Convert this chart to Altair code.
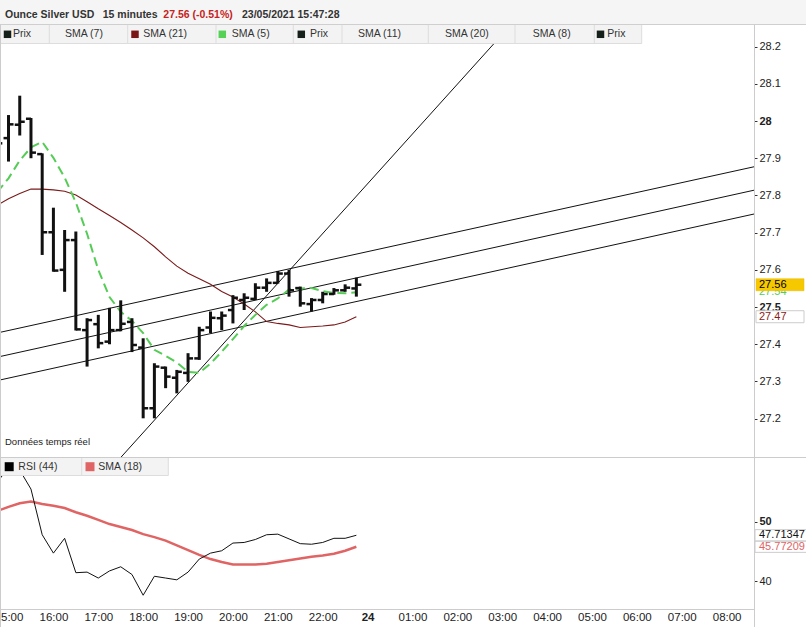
import altair as alt
import pandas as pd

# ---------------- data ----------------
bar_times = ["14:45", "15:00", "15:15", "15:30", "15:45", "16:00", "16:15", "16:30", "16:45",
             "17:00", "17:15", "17:30", "17:45", "18:00", "18:15", "18:30", "18:45",
             "19:00", "19:15", "19:30", "19:45", "20:00", "20:15", "20:30", "20:45",
             "21:00", "21:15", "21:30", "21:45", "22:00", "22:15", "22:30", "22:45"]
opens = [27.930, 27.954, 27.990, 28.006, 27.911, 27.701, 27.600, 27.680, 27.438, 27.454, 27.407,
         27.438, 27.460, 27.391, 27.228, 27.337, 27.310, 27.323, 27.362, 27.445, 27.470, 27.492,
         27.519, 27.522, 27.552, 27.565, 27.590, 27.551, 27.508, 27.519, 27.535, 27.545, 27.550]
highs = [27.980, 28.016, 28.068, 28.008, 27.913, 27.767, 27.707, 27.703, 27.470, 27.479, 27.498,
         27.518, 27.470, 27.416, 27.349, 27.340, 27.331, 27.376, 27.447, 27.488, 27.488, 27.532,
         27.537, 27.564, 27.577, 27.597, 27.600, 27.555, 27.524, 27.541, 27.551, 27.561, 27.579]
lows = [27.920, 27.891, 27.961, 27.900, 27.640, 27.595, 27.541, 27.437, 27.340, 27.389, 27.400,
        27.435, 27.379, 27.201, 27.201, 27.282, 27.268, 27.299, 27.358, 27.430, 27.438, 27.456,
        27.492, 27.519, 27.541, 27.563, 27.528, 27.501, 27.488, 27.510, 27.533, 27.541, 27.528]
closes = [27.940, 27.991, 27.998, 27.915, 27.701, 27.598, 27.680, 27.440, 27.465, 27.403, 27.438,
          27.455, 27.398, 27.228, 27.340, 27.313, 27.326, 27.362, 27.438, 27.471, 27.477, 27.525,
          27.525, 27.552, 27.565, 27.590, 27.545, 27.510, 27.519, 27.535, 27.545, 27.552, 27.560]
sma5 = [27.809, 27.846, 27.894, 27.929, 27.944, 27.901, 27.848, 27.781, 27.697, 27.600, 27.527,
        27.487, 27.463, 27.430, 27.385, 27.369, 27.351, 27.326, 27.323, 27.348, 27.380, 27.414,
        27.449, 27.479, 27.506, 27.523, 27.547, 27.550, 27.551, 27.543, 27.538, 27.537, 27.540]
sma21 = [27.774, 27.791, 27.805, 27.817, 27.817, 27.815, 27.811, 27.801, 27.783, 27.764, 27.746,
         27.727, 27.707, 27.686, 27.662, 27.635, 27.610, 27.591, 27.576, 27.561, 27.542, 27.527,
         27.508, 27.487, 27.461, 27.456, 27.452, 27.445, 27.447, 27.449, 27.452, 27.460, 27.474]
rsi44 = [56.7, 59.1, 58.7, 55.5, 47.8, 44.7, 47.2, 41.4, 41.5, 40.5, 41.7, 42.4, 41.1, 37.6, 40.8,
         40.5, 40.2, 41.5, 43.7, 44.7, 45.1, 46.4, 46.5, 47.0, 47.8, 47.9, 47.1, 46.3, 46.2, 46.5,
         47.2, 47.2, 47.71]
rsi_sma18 = [51.8, 52.5, 53.1, 53.4, 53.0, 52.7, 52.3, 51.6, 51.0, 50.3, 49.6, 49.1, 48.6, 47.9,
             47.4, 46.8, 46.0, 45.2, 44.4, 43.7, 43.2, 42.8, 42.8, 42.8, 42.9, 43.2, 43.5, 43.8,
             44.1, 44.3, 44.6, 45.1, 45.77]

# trend lines: (axis position, price) anchor points
channel_pos = [-0.19, 16.61]
channel_upper = [27.432, 27.877]
channel_middle = [27.367, 27.814]
channel_lower = [27.304, 27.750]
steep_pos = [2.51, 11.19]
steep_price = [27.097, 28.258]

axis_labels = ["15:00", "16:00", "17:00", "18:00", "19:00", "20:00", "21:00", "22:00", "24",
               "01:00", "02:00", "03:00", "04:00", "05:00", "06:00", "07:00", "08:00"]
price_ticks = [27.2, 27.3, 27.4, 27.5, 27.6, 27.7, 27.8, 27.9, 28.0, 28.1, 28.2]
rsi_ticks = [40, 50]

title_parts = ["Ounce Silver USD", "15 minutes", "27.56 (-0.51%)", "23/05/2021 15:47:28"]
last_price, last_sma5, last_sma21 = 27.56, 27.54, 27.474
last_rsi, last_rsi_sma = 47.71347, 45.77209

legend_top = ["Prix", "SMA (7)", "SMA (21)", "SMA (5)", "Prix", "SMA (11)", "SMA (20)", "SMA (8)", "Prix"]
legend_top_colors = ["#16201a", None, "#7a1616", "#55d155", "#16201a", None, None, None, "#16201a"]
legend_rsi = ["RSI (44)", "SMA (18)"]
legend_rsi_colors = ["#000000", "#e06464"]
footnote = "Données temps réel"

# ---------------- layout constants ----------------
W, H = 806, 627
FONT = "Liberation Sans"
XDOM, XR = [-0.19, 16.61], [0, 754]
PDOM, PR = [27.097, 28.258], [457, 25]
RDOM, RR = [35.28, 60.74], [609, 458]


def to_pos(t):
    h, m = t.split(":")
    return (int(h) - 15) + int(m) / 60.0


bars = pd.DataFrame({"i": [to_pos(t) for t in bar_times], "open": opens, "high": highs,
                     "low": lows, "close": closes, "sma5": sma5, "sma21": sma21,
                     "rsi": rsi44, "rsisma": rsi_sma18})


def XS(field="i", axis=None):
    return alt.X(f"{field}:Q", scale=alt.Scale(domain=XDOM, range=XR, nice=False, zero=False), axis=axis)


def YP(field, axis=None):
    return alt.Y(f"{field}:Q", scale=alt.Scale(domain=PDOM, range=PR, nice=False, zero=False), axis=axis)


def YR(field, axis=None):
    return alt.Y(f"{field}:Q", scale=alt.Scale(domain=RDOM, range=RR, nice=False, zero=False), axis=axis)


def PX(f):
    return alt.X(f"{f}:Q", scale=None, axis=None)


def PY(f):
    return alt.Y(f"{f}:Q", scale=None, axis=None)


label_expr = "[" + ",".join(f"'{s}'" for s in axis_labels) + "][datum.value]"
x_axis = alt.Axis(orient="bottom", offset=-17.5, values=list(range(len(axis_labels))),
                  labelExpr=label_expr, ticks=False, domain=False, grid=False, labelPadding=2,
                  labelFont=FONT, labelFontSize=11.5, labelColor="#222222", labelFlush=False,
                  labelOverlap=False, labelBound=False, title=None,
                  labelFontWeight={"condition": {"test": "datum.value == 8", "value": "bold"}, "value": "normal"})
p_axis = alt.Axis(orient="right", offset=-52, values=price_ticks, format="~g", domain=False, grid=False,
                  tickSize=3, tickColor="#333333", labelFont=FONT, labelFontSize=11, labelColor="#222222",
                  labelPadding=2, labelFlush=False, labelOverlap=False, labelBound=False, title=None,
                  labelFontWeight={"condition": {"test": "datum.value == 28 || datum.value == 27.5",
                                                 "value": "bold"}, "value": "normal"})
r_axis = alt.Axis(orient="right", offset=-52, values=rsi_ticks, format="d", domain=False, grid=False,
                  tickSize=3, tickColor="#333333", labelFont=FONT, labelFontSize=11, labelColor="#222222",
                  labelPadding=2, labelFlush=False, labelOverlap=False, labelBound=False, title=None,
                  labelFontWeight={"condition": {"test": "datum.value == 50", "value": "bold"}, "value": "normal"})

layers = []

# header background
bgs = pd.DataFrame([
    dict(x=0, x2=W, y=0, y2=24, c="#f5f5f5"),
])
layers.append(alt.Chart(bgs).mark_rect().encode(x=PX("x"), x2="x2:Q", y=PY("y"), y2="y2:Q",
                                               color=alt.Color("c:N", scale=None)))

# trend lines
tl = pd.DataFrame({
    "i": channel_pos * 3 + steep_pos,
    "p": channel_upper + channel_middle + channel_lower + steep_price,
    "g": ["u", "u", "m", "m", "l", "l", "s", "s"],
})
layers.append(alt.Chart(tl).mark_line(color="#111111", strokeWidth=1).encode(
    x=XS("i", axis=x_axis), y=YP("p", axis=p_axis), detail="g:N"))

# moving averages
layers.append(alt.Chart(bars).mark_line(color="#7a1a1a", strokeWidth=1.1).encode(x=XS(), y=YP("sma21")))
layers.append(alt.Chart(bars).mark_line(color="#55cc55", strokeWidth=2, strokeDash=[9, 5]).encode(
    x=XS(), y=YP("sma5")))

# OHLC bars
layers.append(alt.Chart(bars).mark_rule(color="#111111", strokeWidth=3).encode(
    x=XS(), y=YP("low"), y2="high:Q"))
layers.append(alt.Chart(bars).mark_rule(color="#111111", strokeWidth=2.5, xOffset=-5, x2Offset=0).encode(
    x=XS(), x2="i:Q", y=YP("open")))
layers.append(alt.Chart(bars).mark_rule(color="#111111", strokeWidth=2.5, xOffset=0, x2Offset=5).encode(
    x=XS(), x2="i:Q", y=YP("close")))

# RSI panel
layers.append(alt.Chart(bars).mark_line(color="#e06464", strokeWidth=2.5).encode(
    x=XS(), y=YR("rsisma", axis=r_axis)))
layers.append(alt.Chart(bars).mark_line(color="#111111", strokeWidth=1).encode(x=XS(), y=YR("rsi")))

# legend backgrounds
seps = [0, 49.3, 127.7, 216, 293.3, 342, 428.3, 515, 594.3, 641.7]
leg_bg = pd.DataFrame([
    dict(x=0, x2=641.7, y=25, y2=43.5, c="#f3f3f3"),
    dict(x=0, x2=168.3, y=458, y2=475.5, c="#f3f3f3"),
])
layers.append(alt.Chart(leg_bg).mark_rect().encode(x=PX("x"), x2="x2:Q", y=PY("y"), y2="y2:Q",
                                                  color=alt.Color("c:N", scale=None)))

# frame lines
fr = [dict(x=0, x2=W, y=24.5, y2=24.5, c="#cfcfcf"),
      dict(x=0, x2=641.7, y=43.5, y2=43.5, c="#dddddd"),
      dict(x=0, x2=W, y=457.5, y2=457.5, c="#cccccc"),
      dict(x=0, x2=168.3, y=475.5, y2=475.5, c="#dddddd"),
      dict(x=81.7, x2=81.7, y=458, y2=475.5, c="#dddddd"),
      dict(x=168.3, x2=168.3, y=458, y2=475.5, c="#dddddd"),
      dict(x=0, x2=754, y=609.5, y2=609.5, c="#cccccc"),
      dict(x=754.5, x2=754.5, y=25, y2=H, c="#cccccc"),
      dict(x=0.5, x2=0.5, y=25, y2=H, c="#cccccc")]
for s in seps[1:]:
    fr.append(dict(x=s, x2=s, y=25, y2=43.5, c="#dddddd"))
layers.append(alt.Chart(pd.DataFrame(fr)).mark_rule(strokeWidth=1).encode(
    x=PX("x"), x2="x2:Q", y=PY("y"), y2="y2:Q", color=alt.Color("c:N", scale=None)))

# legend squares
text_x = [13, 65, 143.3, 231.7, 310, 358, 445, 532.7, 607.3]
sq_x = [7.5, None, 135, 222.3, 301.3, None, None, None, 600.5]
sq = pd.DataFrame([dict(x=sq_x[k], y=34.3, c=legend_top_colors[k])
                   for k in range(len(legend_top)) if legend_top_colors[k]])
layers.append(alt.Chart(sq).mark_square(size=56, opacity=1).encode(
    x=PX("x"), y=PY("y"), color=alt.Color("c:N", scale=None)))
sq2 = pd.DataFrame({"x": [9.2, 90], "y": [466.7, 466.7], "c": legend_rsi_colors})
layers.append(alt.Chart(sq2).mark_square(size=81, opacity=1).encode(
    x=PX("x"), y=PY("y"), color=alt.Color("c:N", scale=None)))

# legend texts
lt = pd.DataFrame({"x": text_x, "y": [34.3] * len(legend_top), "t": legend_top})
layers.append(alt.Chart(lt).mark_text(align="left", baseline="middle", font=FONT, fontSize=10.5,
                                      color="#333333").encode(x=PX("x"), y=PY("y"), text="t:N"))
lt2 = pd.DataFrame({"x": [18.3, 98.3], "y": [466.7, 466.7], "t": legend_rsi})
layers.append(alt.Chart(lt2).mark_text(align="left", baseline="middle", font=FONT, fontSize=10.5,
                                       color="#333333").encode(x=PX("x"), y=PY("y"), text="t:N"))
fn = pd.DataFrame({"x": [5], "y": [441.7], "t": [footnote]})
layers.append(alt.Chart(fn).mark_text(align="left", baseline="middle", font=FONT, fontSize=9.5,
                                      color="#222222").encode(x=PX("x"), y=PY("y"), text="t:N"))

# header
hd = pd.DataFrame({"x": [5, 102.7, 163.3, 242], "y": [14.5] * 4, "t": title_parts,
                   "c": ["#333333", "#333333", "#c62222", "#333333"]})
layers.append(alt.Chart(hd).mark_text(align="left", baseline="middle", font=FONT, fontSize=10.5,
                                      fontWeight="bold").encode(
    x=PX("x"), y=PY("y"), text="t:N", color=alt.Color("c:N", scale=None)))

# right-hand value labels
BOX48 = "M-1,-0.25L1,-0.25L1,0.25L-1,0.25Z"
BOX70 = "M-1,-0.16L1,-0.16L1,0.16L-1,0.16Z"
pl_green = pd.DataFrame({"p": [last_sma5], "t": [f"{last_sma5:.2f}"]})
layers.append(alt.Chart(pl_green).mark_point(shape=BOX48, size=48 * 48, filled=True, fill="white",
                                             strokeWidth=0, opacity=1).encode(x=alt.value(780), y=YP("p")))
layers.append(alt.Chart(pl_green).mark_text(align="left", baseline="middle", font=FONT, fontSize=11,
                                            color="#55cc55").encode(x=alt.value(759), y=YP("p"), text="t:N"))
pl_y = pd.DataFrame({"p": [last_price], "t": [f"{last_price:.2f}"]})
layers.append(alt.Chart(pl_y).mark_point(shape=BOX48, size=48 * 48, filled=True, fill="#f6c800",
                                         stroke="#e8b800", strokeWidth=0.5, opacity=1).encode(
    x=alt.value(780), y=YP("p")))
layers.append(alt.Chart(pl_y).mark_text(align="left", baseline="middle", font=FONT, fontSize=11,
                                        color="#000000").encode(x=alt.value(759), y=YP("p"), text="t:N"))
pl_r = pd.DataFrame({"p": [last_sma21], "t": [f"{last_sma21:.2f}"]})
layers.append(alt.Chart(pl_r).mark_point(shape=BOX48, size=48 * 48, filled=True, fill="white",
                                         stroke="#cccccc", strokeWidth=1, opacity=1).encode(
    x=alt.value(780), y=YP("p")))
layers.append(alt.Chart(pl_r).mark_text(align="left", baseline="middle", font=FONT, fontSize=11,
                                        color="#8b1a1a").encode(x=alt.value(759), y=YP("p"), text="t:N"))

rl = pd.DataFrame({"r": [last_rsi_sma, last_rsi], "t": [f"{last_rsi_sma:.5f}", f"{last_rsi:.5f}"],
                   "c": ["#e06464", "#111111"]})
layers.append(alt.Chart(rl).mark_point(shape=BOX70, size=70 * 70, filled=True, fill="white",
                                       stroke="#cccccc", strokeWidth=1, opacity=1).encode(
    x=alt.value(790), y=YR("r")))
layers.append(alt.Chart(rl).mark_text(align="left", baseline="middle", font=FONT, fontSize=11).encode(
    x=alt.value(759), y=YR("r"), text="t:N", color=alt.Color("c:N", scale=None)))

chart = alt.layer(*layers).resolve_scale(x="independent", y="independent").properties(
    width=W, height=H, autosize=alt.AutoSizeParams(type="none"), padding=0, background="white"
).configure_view(strokeWidth=0)

chart.save("out.html", embed_options={"renderer": "svg", "actions": False})
